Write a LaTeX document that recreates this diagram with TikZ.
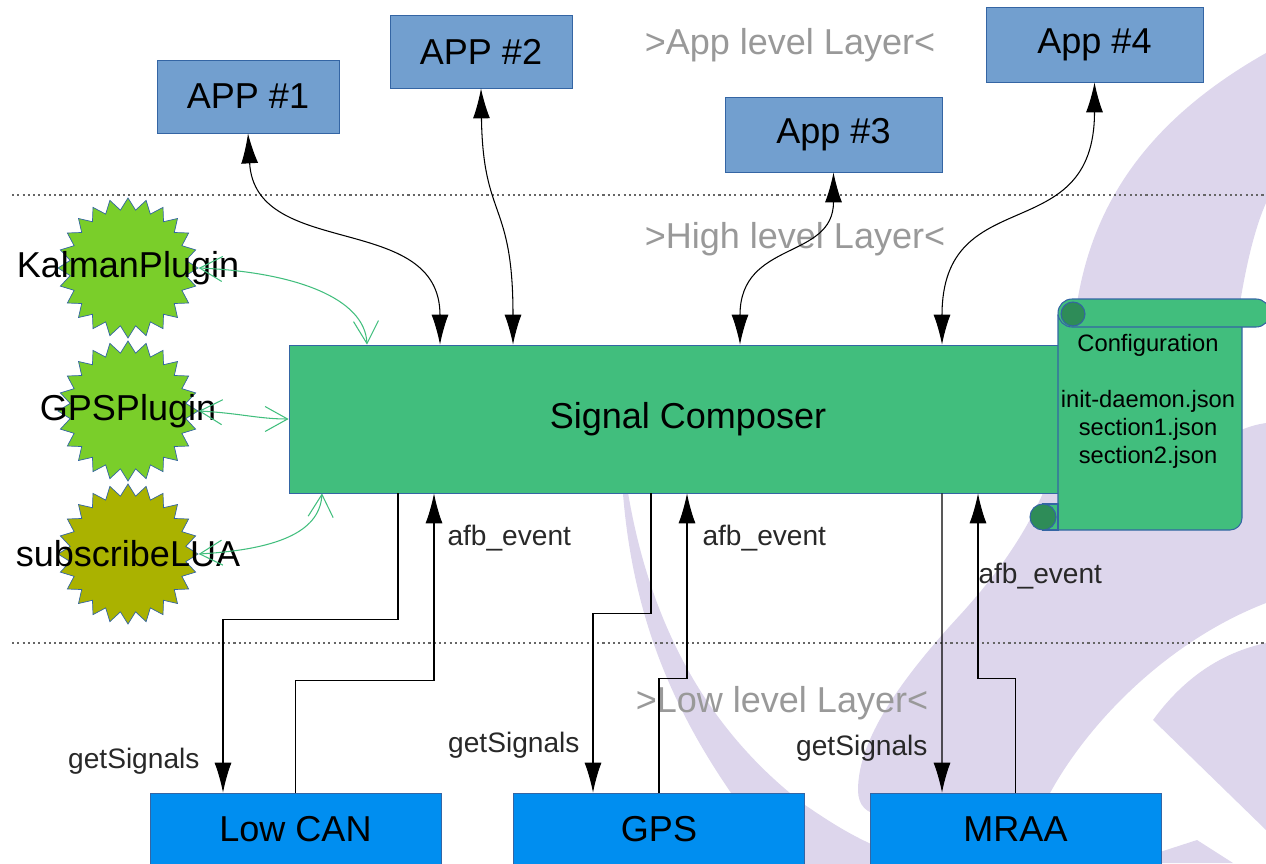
\documentclass[tikz,border=0pt]{standalone}
\usepackage{fontspec}
\setmainfont{Liberation Sans}
\usepackage{tikz}
\usetikzlibrary{arrows.meta, shapes.geometric}

\definecolor{appfill}{RGB}{114,159,207}
\definecolor{edgeblue}{RGB}{52,101,164}
\definecolor{compgreen}{RGB}{65,190,125}
\definecolor{curlgreen}{RGB}{46,140,88}
\definecolor{lowblue}{RGB}{0,142,240}
\definecolor{pluggreen}{RGB}{122,206,42}
\definecolor{plugolive}{RGB}{170,178,0}
\definecolor{bgpurple}{RGB}{221,214,236}
\definecolor{layergray}{RGB}{153,153,153}
\definecolor{lblgray}{RGB}{40,40,40}

\newcommand{\boxfont}{\fontsize{20.5}{24}\selectfont}
\newcommand{\lblfont}{\fontsize{16}{19}\selectfont}
\newcommand{\conffont}{\fontsize{13.5}{15.9}\selectfont}

\begin{document}
\begin{tikzpicture}[
		app/.style={rectangle, draw=edgeblue, fill=appfill, minimum width=3.64cm, minimum height=1.46cm, inner sep=0pt, font=\boxfont},
		wideapp/.style={app, minimum width=4.34cm, minimum height=1.5cm},
		core/.style={rectangle, draw=edgeblue, fill=compgreen, minimum width=15.96cm, minimum height=2.96cm, font=\boxfont},
		lowbox/.style={rectangle, draw=edgeblue, fill=lowblue, minimum width=5.82cm, minimum height=1.46cm, inner sep=0pt, font=\boxfont},
		plugin/.style={star, star points=24, star point ratio=1.2, minimum size=2.8cm, inner sep=0pt, draw=edgeblue, fill=pluggreen},
		layertxt/.style={font=\boxfont, text=layergray},
		lbl/.style={font=\lblfont, text=lblgray, inner sep=0pt},
		scroll/.style={draw=edgeblue, fill=compgreen, line width=0.6pt},
		curl/.style={draw=edgeblue, fill=curlgreen, line width=0.6pt},
		layersep/.style={draw=black!60, line width=0.6pt, dash pattern=on 1.2pt off 1.8pt},
		link/.style={<->, >={Latex[length=6mm,width=3.4mm]}, line width=0.6pt},
		sig/.style={->, >={Latex[length=6mm,width=3.4mm]}, line width=0.6pt},
		plug/.style={<->, >={Straight Barb[length=4.5mm,width=5mm]}, draw=compgreen, line width=0.6pt}
	]

	\useasboundingbox (0,0) rectangle (25.32,-17.26);
	\clip (0,0) rectangle (25.32,-17.26);

	% --- watermark in the background ---
	\fill[bgpurple] (25.32,-1.06) .. controls (22.6,-2.6) and (21.5,-4.6) .. (21.44,-7.2)
		.. controls (21.4,-9.6) and (20.2,-11.2) .. (19.2,-12.3)
		.. controls (18,-13.6) and (17.16,-14.8) .. (17.16,-15.8)
		.. controls (17.16,-16.1) and (17.32,-16.3) .. (17.7,-16.3)
		-- (21,-16.3) -- (21,-15.86)
		.. controls (21.8,-14.4) and (23.4,-12.8) .. (25.32,-12.06)
		-- (25.32,-8.46)
		.. controls (24.9,-8.52) and (24.6,-8.7) .. (24.5,-8.8)
		.. controls (24.64,-6.8) and (24.9,-5) .. (25.32,-4.06) -- cycle;
	\fill[bgpurple] (25.32,-12.86) .. controls (24.2,-13.1) and (23.5,-13.8) .. (23.06,-14.4) -- (25.32,-16.6) -- cycle;
	\fill[bgpurple] (23.2,-17.04) -- (23.94,-16.8) -- (24.66,-17.26) -- (23.2,-17.26) -- cycle;
	\fill[bgpurple] (12.44,-9.6) .. controls (12.64,-12.8) and (13.8,-15) .. (15.8,-17.4) -- (18,-17.4) -- (17.6,-16.96)
		.. controls (17,-16.7) and (16.6,-16.44) .. (16.1,-16.1)
		.. controls (14.4,-14.8) and (13,-12.8) .. (12.52,-9.6) -- cycle;

	% --- layer borders ---
	\coordinate (topl) at (0.24,-3.9);
	\coordinate (topr) at (25.32,-3.9);
	\coordinate (botl) at (0.24,-12.86);
	\coordinate (botr) at (25.32,-12.86);
	\draw[layersep] (topl) -- (topr);
	\draw[layersep] (botl) -- (botr);

	\node[layertxt] (applayer) at (15.8,-0.9) {>App level Layer<};
	\node[layertxt] (highlayer) at (15.9,-4.78) {>High level Layer<};
	\node[layertxt] (lowlayer) at (15.64,-14.06) {>Low level Layer<};

	% --- applications ---
	\node[app] (app1) at (4.96,-1.93) {APP \#1};
	\node[app] (app2) at (9.62,-1.03) {APP \#2};
	\node[wideapp] (app3) at (16.67,-2.69) {App \#3};
	\node[wideapp] (app4) at (21.89,-0.89) {App \#4};

	% --- signal composer and its configuration ---
	\node[core] (composer) at (13.76,-8.38) {Signal Composer};

	\filldraw[scroll] (21.16,-6.3) -- (21.16,-10.6) [rounded corners=0.24cm] -- (24.84,-10.6) -- (24.84,-6.3) [sharp corners] -- cycle;
	\filldraw[scroll, rounded corners=0.28cm] (21.16,-5.98) rectangle (25.4,-6.54);
	\filldraw[curl] (21.46,-6.28) circle (0.24cm);
	\filldraw[scroll] (20.86,-10.08) rectangle (21.16,-10.6);
	\filldraw[curl] (20.86,-10.34) circle (0.26cm);
	\node[font=\conffont, align=center] (conf) at (22.96,-8.02) {Configuration\\[15.9pt]init-daemon.json\\section1.json\\section2.json};

	% --- plugins ---
	\node[plugin] (kalman) at (2.56,-5.36) {};
	\node[plugin] (gpsplug) at (2.56,-8.22) {};
	\node[plugin, fill=plugolive] (sublua) at (2.56,-11.08) {};
	\node[font=\boxfont] (kalmantxt) at (kalman) {KalmanPlugin};
	\node[font=\boxfont] (gpstxt) at (gpsplug) {GPSPlugin};
	\node[font=\boxfont] (subluatxt) at (sublua) {subscribeLUA};

	\draw[plug] (kalman.east) .. controls +(1.9,-0.08) and +(-0.04,0.94) .. ([xshift=-6.42cm]composer.north);
	\draw[plug] (gpsplug.east) .. controls +(0.8,-0.04) and +(-0.6,0) .. (composer.west);
	\draw[plug] (sublua.east) .. controls +(1.74,0.1) and +(-0.04,-0.7) .. ([xshift=-7.32cm]composer.south);

	% --- app links ---
	\draw[link] (app1.south) .. controls +(0.14,-2.54) and +(0,2.68) .. ([xshift=-4.96cm]composer.north);
	\draw[link] (app2.south) .. controls +(0.04,-2.64) and +(0,2.9) .. ([xshift=-3.5cm]composer.north);
	\draw[link] (app3.south) .. controls +(0,-1.76) and +(0,2.1) .. ([xshift=1.04cm]composer.north);
	\draw[link] (app4.south) .. controls +(0,-3.36) and +(0,3.3) .. ([xshift=5.08cm]composer.north);

	% --- low level bindings ---
	\node[lowbox] (lowcan) at (5.91,-16.59) {Low CAN};
	\node[lowbox] (gps) at (13.18,-16.59) {GPS};
	\node[lowbox] (mraa) at (20.31,-16.59) {MRAA};

	\draw[sig] ([xshift=-5.8cm]composer.south) -- ++(0,-2.52) -| node[lbl, pos=0.91, left=4.6mm] {getSignals} ([xshift=-1.45cm]lowcan.north);
	\draw[sig] (lowcan.north) -- ++(0,2.24) -| node[lbl, pos=0.88, right=2.6mm] {afb\_event} ([xshift=-5.08cm]composer.south);
	\draw[sig] ([xshift=-0.74cm]composer.south) -- ++(0,-2.4) -| node[lbl, pos=0.867, left=2.6mm] {getSignals} ([xshift=-1.32cm]gps.north);
	\draw[sig] (gps.north) -- ++(0,2.28) -| node[lbl, pos=0.879, right=3mm] {afb\_event} ([xshift=-0.02cm]composer.south);
	\draw[sig] ([xshift=5.08cm]composer.south) -- node[lbl, pos=0.853, left=2.8mm] {getSignals} ([xshift=-1.47cm]mraa.north);
	\draw[sig] (mraa.north) -- ++(0,2.28) -| node[lbl, pos=0.777, right=0pt] {afb\_event} ([xshift=5.8cm]composer.south);

\end{tikzpicture}
\end{document}
